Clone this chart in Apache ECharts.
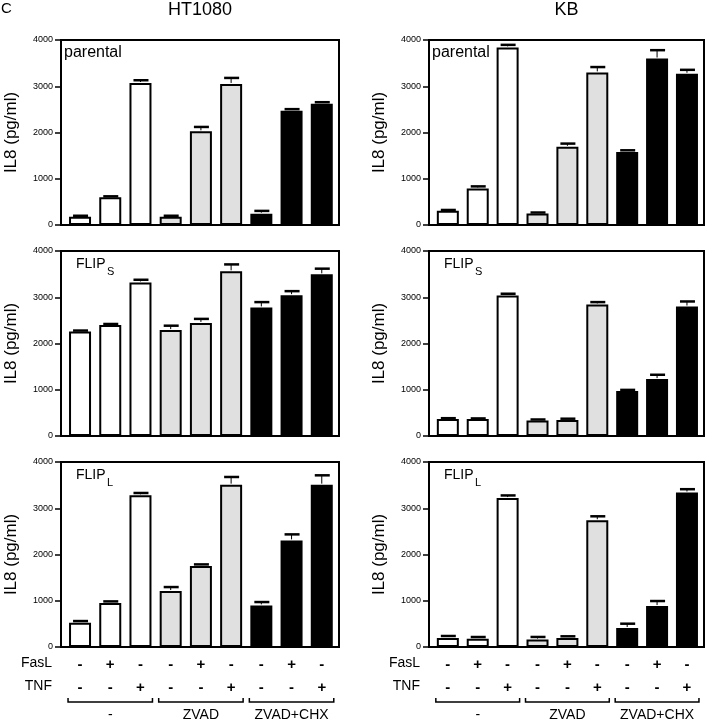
<!DOCTYPE html>
<html>
<head>
<meta charset="utf-8">
<script src="https://cdn.jsdelivr.net/npm/echarts@6/dist/echarts.min.js"></script>
<style>
html,body{margin:0;padding:0;background:#fff;}
#chart{width:707px;height:720px;}
</style>
</head>
<body>
<div id="chart"></div>
<script>
// ---- data ----
const conditionIndex = [0, 1, 2, 3, 4, 5, 6, 7, 8];
const fasL = ['-', '+', '-', '-', '+', '-', '-', '+', '-'];
const tnf = ['-', '-', '+', '-', '-', '+', '-', '-', '+'];
const groupLabels = ['-', 'ZVAD', 'ZVAD+CHX'];
const groupStart = [0, 3, 6];
const groupEnd = [2, 5, 8];
const yTicks = [0, 1000, 2000, 3000, 4000];

const ht1080Parental = [180, 600, 3070, 180, 2025, 3050, 245, 2470, 2620];
const ht1080ParentalErr = [20, 20, 60, 20, 95, 130, 60, 35, 35];
const kbParental = [310, 790, 3840, 250, 1690, 3300, 1580, 3600, 3270];
const kbParentalErr = [15, 45, 55, 20, 70, 115, 35, 180, 85];
const ht1080FlipS = [2260, 2400, 3320, 2290, 2445, 3560, 2780, 3045, 3495];
const ht1080FlipSErr = [20, 22, 58, 95, 87, 150, 115, 87, 123];
const kbFlipS = [370, 365, 3040, 335, 345, 2845, 975, 1230, 2800];
const kbFlipSErr = [15, 15, 36, 22, 29, 50, 22, 94, 109];
const ht1080FlipL = [525, 950, 3280, 1210, 1750, 3510, 900, 2305, 3510];
const ht1080FlipLErr = [36, 36, 50, 86, 36, 166, 72, 130, 202];
const kbFlipL = [195, 180, 3220, 160, 195, 2740, 410, 885, 3340];
const kbFlipLErr = [43, 36, 57, 57, 36, 86, 94, 109, 72];

// ---- styling / layout ----
const FONT = '"Liberation Sans", Arial, Helvetica, sans-serif';
const groupColor = ['#ffffff', '#e0e0e0', '#000000'];
const BAR_W = 22;
const colLeft = [61, 429];
const colWidth = [278, 275];
const rowTop = [40, 251, 462];
const PLOT_H = 185;

const panels = [
  { col: 0, row: 0, values: ht1080Parental, errs: ht1080ParentalErr, label: 'parental' },
  { col: 1, row: 0, values: kbParental, errs: kbParentalErr, label: 'parental' },
  { col: 0, row: 1, values: ht1080FlipS, errs: ht1080FlipSErr, label: 'FLIP', sub: 'S' },
  { col: 1, row: 1, values: kbFlipS, errs: kbFlipSErr, label: 'FLIP', sub: 'S' },
  { col: 0, row: 2, values: ht1080FlipL, errs: ht1080FlipLErr, label: 'FLIP', sub: 'L' },
  { col: 1, row: 2, values: kbFlipL, errs: kbFlipLErr, label: 'FLIP', sub: 'L' }
];

const grids = [], xAxes = [], yAxes = [], series = [], graphics = [];

panels.forEach((p, k) => {
  const isBottom = p.row === 2;
  grids.push({
    left: colLeft[p.col], top: rowTop[p.row], width: colWidth[p.col], height: PLOT_H,
    show: true, borderColor: '#000', borderWidth: 2, backgroundColor: 'transparent'
  });
  xAxes.push({
    gridIndex: k, type: 'value', min: -0.63, max: 8.57,
    axisLine: { show: false, onZero: false }, axisTick: { show: false }, splitLine: { show: false },
    axisLabel: isBottom ? {
      show: true, customValues: conditionIndex,
      formatter: (v) => fasL[Math.round(v)] + '\n' + tnf[Math.round(v)],
      fontFamily: FONT, fontSize: 15, fontWeight: 'bold', color: '#000', lineHeight: 23, margin: 6
    } : { show: false }
  });
  yAxes.push({
    gridIndex: k, type: 'value', min: yTicks[0], max: yTicks[yTicks.length - 1], interval: yTicks[1] - yTicks[0],
    name: 'IL8 (pg/ml)', nameLocation: 'middle', nameGap: 41,
    nameTextStyle: { fontFamily: FONT, fontSize: 17, color: '#000' },
    axisLine: { show: true, onZero: false, lineStyle: { color: '#000', width: 2 } },
    axisTick: { show: true, inside: false, length: 6, lineStyle: { color: '#000', width: 1.5 } },
    axisLabel: { fontFamily: FONT, fontSize: 9, color: '#000', margin: 8, formatter: (v) => String(v) },
    splitLine: { show: false }
  });
  series.push({
    type: 'bar', xAxisIndex: k, yAxisIndex: k, barWidth: BAR_W,
    data: p.values.map((v, i) => ({
      value: [conditionIndex[i], v],
      itemStyle: { color: groupColor[Math.floor(i / 3)], borderColor: '#000', borderWidth: 2 }
    })),
    animation: false, z: 2
  });
  series.push({
    type: 'custom', xAxisIndex: k, yAxisIndex: k, z: 3, animation: false,
    data: p.values.map((v, i) => [conditionIndex[i], v, p.errs[i]]),
    renderItem: (params, api) => {
      const x = api.value(0), v = api.value(1), e = api.value(2);
      const top = api.coord([x, v]);
      const cap = api.coord([x, v + e]);
      return {
        type: 'group', children: [
          { type: 'line', shape: { x1: top[0], y1: top[1] - 1, x2: cap[0], y2: cap[1] }, style: { stroke: '#000', lineWidth: 1 } },
          { type: 'line', shape: { x1: cap[0] - 7, y1: cap[1], x2: cap[0] + 8, y2: cap[1] }, style: { stroke: '#000', lineWidth: 2.5 } }
        ]
      };
    }
  });
  if (isBottom) {
    series.push({
      type: 'custom', xAxisIndex: k, yAxisIndex: k, z: 3, animation: false, clip: false,
      data: groupStart.map((s, g) => [s, groupEnd[g]]),
      renderItem: (params, api) => {
        const a = api.coord([api.value(0), 0]);
        const b = api.coord([api.value(1), 0]);
        const l = a[0] - BAR_W / 2 - 1, r = b[0] + BAR_W / 2 + 1, y = a[1] + 55;
        return {
          type: 'group', children: [
            { type: 'polyline', shape: { points: [[l, y - 4], [l, y], [r, y], [r, y - 4]] }, style: { stroke: '#000', lineWidth: 1.5, fill: null } },
            { type: 'text', x: (l + r) / 2, y: y + 13, style: { text: groupLabels[params.dataIndex], font: '14px ' + FONT, fill: '#000', textAlign: 'center', textVerticalAlign: 'middle' } }
          ]
        };
      }
    });
    graphics.push(
      { type: 'text', x: colLeft[p.col] - 9, y: rowTop[p.row] + PLOT_H + 16, style: { text: 'FasL', font: '14px ' + FONT, fill: '#000', textAlign: 'right', textVerticalAlign: 'middle' } },
      { type: 'text', x: colLeft[p.col] - 9, y: rowTop[p.row] + PLOT_H + 39, style: { text: 'TNF', font: '14px ' + FONT, fill: '#000', textAlign: 'right', textVerticalAlign: 'middle' } }
    );
  }
  // panel label
  if (p.sub) {
    graphics.push(
      { type: 'text', x: colLeft[p.col] + 15, y: rowTop[p.row] + 13, style: { text: p.label, font: '14px ' + FONT, fill: '#000', textAlign: 'left', textVerticalAlign: 'middle' } },
      { type: 'text', x: colLeft[p.col] + 46, y: rowTop[p.row] + 21, style: { text: p.sub, font: '11px ' + FONT, fill: '#000', textAlign: 'left', textVerticalAlign: 'middle' } }
    );
  } else {
    graphics.push(
      { type: 'text', x: colLeft[p.col] + 3, y: rowTop[p.row] + 13, style: { text: p.label, font: '16px ' + FONT, fill: '#000', textAlign: 'left', textVerticalAlign: 'middle' } }
    );
  }
});

graphics.push(
  { type: 'text', x: 1, y: 9, style: { text: 'C', font: '15px ' + FONT, fill: '#000', textAlign: 'left', textVerticalAlign: 'middle' } },
  { type: 'text', x: colLeft[0] + colWidth[0] / 2, y: 10, style: { text: 'HT1080', font: '18px ' + FONT, fill: '#000', textAlign: 'center', textVerticalAlign: 'middle' } },
  { type: 'text', x: colLeft[1] + colWidth[1] / 2, y: 10, style: { text: 'KB', font: '18px ' + FONT, fill: '#000', textAlign: 'center', textVerticalAlign: 'middle' } }
);

const chart = echarts.init(document.getElementById('chart'), null, { renderer: 'canvas' });
chart.setOption({
  animation: false,
  backgroundColor: '#fff',
  textStyle: { fontFamily: FONT },
  grid: grids, xAxis: xAxes, yAxis: yAxes, series: series, graphic: graphics
});
</script>
</body>
</html>
